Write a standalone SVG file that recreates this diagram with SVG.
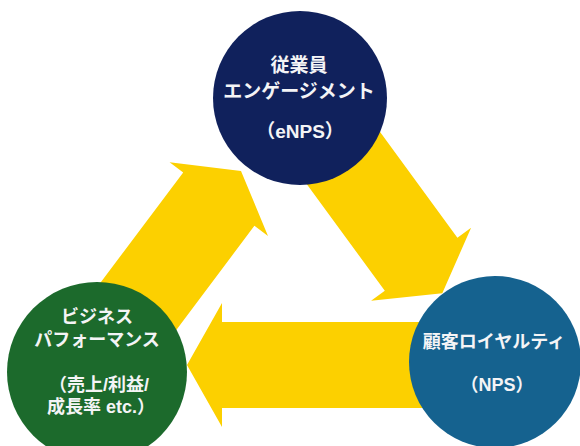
<svg xmlns="http://www.w3.org/2000/svg" width="580" height="446" viewBox="0 0 580 446">
<style>
.arrow{fill:#fcd000}
.t{fill:#f4f4f6;font-family:"Liberation Sans","Noto Sans CJK JP",sans-serif;font-weight:bold;text-anchor:middle;dominant-baseline:central}
</style>
<rect width="580" height="446" fill="#ffffff"/>
<g id="connectors">
<polygon class="arrow" points="56,342 183.2,172.4 169.6,162.2 241,171 268,236 254.4,225.8 127.2,395.4"/>
<polygon class="arrow" points="271.5,135.9 344.1,82.8 457.4,237.7 471.1,227.7 442.3,293.3 371.1,300.8 384.8,290.8"/>
<polygon class="arrow" points="470,322 222,322 222,303 187,365 222,427 222,408 470,408"/>
</g>
<g id="engagement">
<circle cx="300" cy="98" r="87" fill="#10215c"/>
<text class="t" font-size="19"><tspan x="299" y="64.5">従業員</tspan><tspan x="299" y="91">エンゲージメント</tspan></text>
<text class="t" x="300" y="131" font-size="19">（eNPS）</text>
</g>
<g id="business">
<circle cx="97" cy="372" r="90" fill="#1c6a2c"/>
<text class="t" font-size="18"><tspan x="97" y="317">ビジネス</tspan><tspan x="97" y="340">パフォーマンス</tspan></text>
<text class="t" font-size="18"><tspan x="99" y="385">（売上/利益/</tspan><tspan x="101" y="407">成長率 etc.）</tspan></text>
</g>
<g id="loyalty">
<circle cx="495" cy="362" r="86" fill="#15628f"/>
<text class="t" x="494" y="342" font-size="18">顧客ロイヤルティ</text>
<text class="t" x="497" y="385" font-size="18">（NPS）</text>
</g>
</svg>
